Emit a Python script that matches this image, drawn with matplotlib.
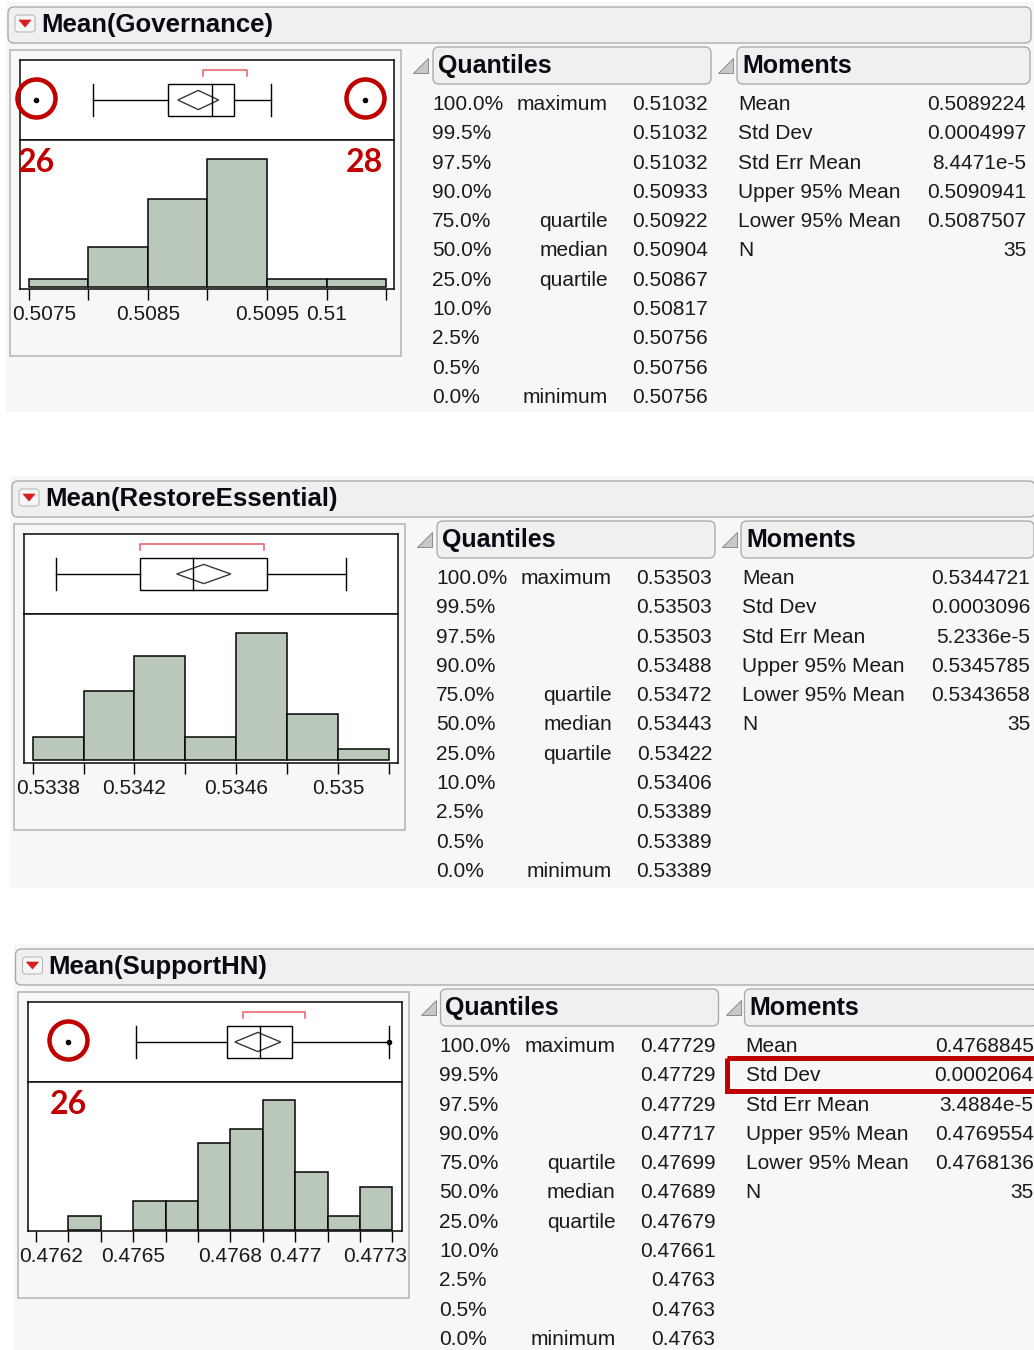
import matplotlib
matplotlib.use("Agg")
import matplotlib.pyplot as plt
import matplotlib.transforms as mtransforms
from matplotlib.patches import FancyBboxPatch, Rectangle, Polygon
import numpy as np

# ---------------- data ----------------
panel_titles = ["Mean(Governance)", "Mean(RestoreEssential)", "Mean(SupportHN)"]

quantile_pcts = ["100.0%", "99.5%", "97.5%", "90.0%", "75.0%", "50.0%",
                 "25.0%", "10.0%", "2.5%", "0.5%", "0.0%"]
quantile_names = ["maximum", "", "", "", "quartile", "median",
                  "quartile", "", "", "", "minimum"]
moment_names = ["Mean", "Std Dev", "Std Err Mean", "Upper 95% Mean",
                "Lower 95% Mean", "N"]

# Governance
gov_edges = [0.5075, 0.5080, 0.5085, 0.5090, 0.5095, 0.5100, 0.5105]
gov_counts = [1, 5, 11, 16, 1, 1]
gov_quantiles = [0.51032, 0.51032, 0.51032, 0.50933, 0.50922, 0.50904,
                 0.50867, 0.50817, 0.50756, 0.50756, 0.50756]
gov_moments = [0.5089224, 0.0004997, 8.4471e-5, 0.5090941, 0.5087507, 35]
gov_whiskers = [0.50804, 0.50953]
gov_outliers = [0.50756, 0.51032]
gov_shorth = [0.50896, 0.50933]
gov_ticks = [0.5075, 0.5080, 0.5085, 0.5090, 0.5095, 0.5100, 0.5105]
gov_tick_labels = {0.5075: "0.5075", 0.5085: "0.5085", 0.5095: "0.5095", 0.5100: "0.51"}
gov_marks = [(0.50756, "26"), (0.51032, "28")]

# RestoreEssential
res_edges = [0.5338, 0.5340, 0.5342, 0.5344, 0.5346, 0.5348, 0.5350, 0.5352]
res_counts = [2, 6, 9, 2, 11, 4, 1]
res_quantiles = [0.53503, 0.53503, 0.53503, 0.53488, 0.53472, 0.53443,
                 0.53422, 0.53406, 0.53389, 0.53389, 0.53389]
res_moments = [0.5344721, 0.0003096, 5.2336e-5, 0.5345785, 0.5343658, 35]
res_whiskers = [0.53389, 0.53503]
res_outliers = []
res_shorth = [0.53422, 0.53471]
res_ticks = [0.5338, 0.5340, 0.5342, 0.5344, 0.5346, 0.5348, 0.5350, 0.5352]
res_tick_labels = {0.5338: "0.5338", 0.5342: "0.5342", 0.5346: "0.5346", 0.5350: "0.535"}
res_marks = []

# SupportHN
sup_edges = [0.4762, 0.4763, 0.4764, 0.4765, 0.4766, 0.4767, 0.4768,
             0.4769, 0.4770, 0.4771, 0.4772, 0.4773]
sup_counts = [0, 1, 0, 2, 2, 6, 7, 9, 4, 1, 3]
sup_quantiles = [0.47729, 0.47729, 0.47729, 0.47717, 0.47699, 0.47689,
                 0.47679, 0.47661, 0.4763, 0.4763, 0.4763]
sup_moments = [0.4768845, 0.0002064, 3.4884e-5, 0.4769554, 0.4768136, 35]
sup_whiskers = [0.47651, 0.47729]
sup_outliers = [0.4763, 0.47729]
sup_shorth = [0.47684, 0.47703]
sup_ticks = [0.4762, 0.4763, 0.4764, 0.4765, 0.4766, 0.4767, 0.4768,
             0.4769, 0.4770, 0.4771, 0.4772, 0.4773]
sup_tick_labels = {0.4762: "0.4762", 0.4765: "0.4765", 0.4768: "0.4768",
                   0.4770: "0.477", 0.4773: "0.4773"}
sup_marks = [(0.4763, "26")]

# ---------------- layout / style ----------------
W, H = 1034, 1350
fig = plt.figure(figsize=(W / 100, H / 100), dpi=100)
fig.patch.set_facecolor("white")
bg = fig.add_axes([0, 0, 1, 1], zorder=0)
bg.set_xlim(0, W)
bg.set_ylim(H, 0)
bg.axis("off")

TXT = "Liberation Sans"
RED = "#C00000"
BAR = "#B9C8B9"
PANEL_BG = "#F7F7F7"
INK = "#1A1A1A"


def pt(px):
    return px * 0.72


def fig_rect(x0, y0, x1, y1):
    return [x0 / W, 1 - y1 / H, (x1 - x0) / W, (y1 - y0) / H]


def fmt_q(v):
    return f"{v:.5f}".rstrip("0")


def fmt_m(v, i):
    if i == 5:
        return str(int(v))
    if i == 2:
        m, e = f"{v:.4e}".split("e")
        return f"{m}e{int(e)}"
    return f"{v:.7f}"


panels = [
    dict(title=panel_titles[0], dx=0, dy=0, edges=gov_edges, counts=gov_counts,
         quant=gov_quantiles, mom=gov_moments, whisk=gov_whiskers, outl=gov_outliers,
         shorth=gov_shorth, ticks=gov_ticks, tlabels=gov_tick_labels, marks=gov_marks,
         xlim=(0.5074244, 0.5105672), ylim=(-0.25, 18.4), bottom=412,
         shift={0.5075: 15}),
    dict(title=panel_titles[1], dx=4, dy=474, edges=res_edges, counts=res_counts,
         quant=res_quantiles, mom=res_moments, whisk=res_whiskers, outl=res_outliers,
         shorth=res_shorth, ticks=res_ticks, tlabels=res_tick_labels, marks=res_marks,
         xlim=(0.533766, 0.535235), ylim=(-0.23, 12.6), bottom=888,
         shift={0.5338: 15}),
    dict(title=panel_titles[2], dx=7.5, dy=942, edges=sup_edges, counts=sup_counts,
         quant=sup_quantiles, mom=sup_moments, whisk=sup_whiskers, outl=sup_outliers,
         shorth=sup_shorth, ticks=sup_ticks, tlabels=sup_tick_labels, marks=sup_marks,
         xlim=(0.476174, 0.4773278), ylim=(-0.07, 10.25), bottom=1352,
         shift={0.4762: 15, 0.4773: -17}),
]

for p in panels:
    dx, dy = p["dx"], p["dy"]

    # panel background
    bg.add_patch(Rectangle((6 + dx, 2 + dy), W, p["bottom"] - dy - 2,
                           fc=PANEL_BG, ec="none", zorder=0))
    # title bar
    bg.add_patch(FancyBboxPatch((8 + dx, 7 + dy), 1023, 36,
                                boxstyle="round,pad=0,rounding_size=6",
                                fc="#F0F0F0", ec="#A8A8A8", lw=pt(1.3), zorder=1))
    bg.add_patch(FancyBboxPatch((15 + dx, 15 + dy), 20, 17,
                                boxstyle="round,pad=0,rounding_size=3",
                                fc="#F6F6F6", ec="#B4B4B4", lw=pt(1), zorder=2))
    bg.add_patch(Polygon([(19 + dx, 20 + dy), (31 + dx, 20 + dy), (25 + dx, 27 + dy)],
                         closed=True, fc="#D81E1E", ec="#D81E1E", lw=0.5, zorder=3))
    bg.text(41 + dx, 25 + dy, p["title"], fontsize=18.5, fontweight="bold",
            family=TXT, color="#0A0A14", va="center", ha="left", zorder=3)

    # plot container
    bg.add_patch(Rectangle((10 + dx, 50 + dy), 391, 306, fc=PANEL_BG,
                           ec="#B6B6B6", lw=pt(1.6), zorder=1))

    # sub-headers
    for (tx0, bx0, bx1, label) in [(413, 433, 711, "Quantiles"), (718, 737, 1030, "Moments")]:
        bg.add_patch(Polygon([(tx0 + 15 + dx, 58 + dy), (tx0 + 15 + dx, 73 + dy),
                              (tx0 + dx, 73 + dy)], closed=True,
                             fc="#C8C8C8", ec="#8C8C8C", lw=pt(1), zorder=2))
        bg.add_patch(FancyBboxPatch((bx0 + dx, 47 + dy), bx1 - bx0, 37,
                                    boxstyle="round,pad=0,rounding_size=6",
                                    fc="#F0F0F0", ec="#A8A8A8", lw=pt(1.3), zorder=1))
        bg.text(bx0 + 5 + dx, 66 + dy, label, fontsize=18, fontweight="bold",
                family=TXT, color="#0A0A14", va="center", ha="left", zorder=3)

    # quantile table
    for i in range(len(quantile_pcts)):
        y = 104.5 + 29.3 * i + dy
        bg.text(432 + dx, y, quantile_pcts[i], fontsize=15, family=TXT,
                color=INK, va="center", ha="left", zorder=3)
        if quantile_names[i]:
            bg.text(608 + dx, y, quantile_names[i], fontsize=15, family=TXT,
                    color=INK, va="center", ha="right", zorder=3)
        bg.text(708 + dx, y, fmt_q(p["quant"][i]), fontsize=15, family=TXT,
                color=INK, va="center", ha="right", zorder=3)
    # moments table
    for i in range(len(moment_names)):
        y = 104.5 + 29.3 * i + dy
        bg.text(738 + dx, y, moment_names[i], fontsize=15, family=TXT,
                color=INK, va="center", ha="left", zorder=3)
        bg.text(1026 + dx, y, fmt_m(p["mom"][i], i), fontsize=15, family=TXT,
                color=INK, va="center", ha="right", zorder=3)

    # ---------- box plot axes ----------
    axb = fig.add_axes(fig_rect(20 + dx, 60 + dy, 394 + dx, 140 + dy), zorder=2)
    axb.set_xlim(*p["xlim"])
    axb.set_ylim(0, 1)
    axb.set_xticks([])
    axb.set_yticks([])
    for s in axb.spines.values():
        s.set_linewidth(pt(1.6))
        s.set_color("#111111")
    q1, med, q3 = p["quant"][6], p["quant"][5], p["quant"][4]
    wl, wh = p["whisk"]
    lw = pt(1.4)
    b0, b1, yc = 0.305, 0.695, 0.5
    axb.plot([wl, q1], [yc, yc], color="black", lw=lw)
    axb.plot([q3, wh], [yc, yc], color="black", lw=lw)
    axb.plot([wl, wl], [b0, b1], color="black", lw=lw)
    axb.plot([wh, wh], [b0, b1], color="black", lw=lw)
    axb.add_patch(Rectangle((q1, b0), q3 - q1, b1 - b0, fc="white", ec="black", lw=lw))
    mean, upper, lower = p["mom"][0], p["mom"][3], p["mom"][4]
    axb.add_patch(Polygon([(lower, yc), (mean, yc + 0.12), (upper, yc), (mean, yc - 0.12)],
                          closed=True, fill=False, ec="#3A3A3A", lw=lw, zorder=3))
    axb.plot([med, med], [b0, b1], color="black", lw=lw, zorder=4)
    s0, s1 = p["shorth"]
    axb.plot([s0, s0, s1, s1], [0.80, 0.87, 0.87, 0.80], color="#F0606E", lw=pt(1.6))
    for o in p["outl"]:
        axb.plot([o], [yc], marker="o", ms=3, color="black", ls="none", zorder=5)
    for (xv, _) in p["marks"]:
        axb.plot([xv], [yc + 0.03], marker="o", ms=pt(38), mfc="none", mec=RED,
                 mew=pt(4.5), ls="none", clip_on=False, zorder=10)

    # ---------- histogram axes ----------
    axh = fig.add_axes(fig_rect(20 + dx, 140 + dy, 394 + dx, 289 + dy), zorder=2)
    edges = np.array(p["edges"])
    counts = np.array(p["counts"])
    ecs = ["black" if c > 0 else "none" for c in counts]
    axh.bar(edges[:-1], counts, width=np.diff(edges), align="edge",
            color=BAR, edgecolor=ecs, linewidth=pt(1.5), zorder=2)
    axh.set_xlim(*p["xlim"])
    axh.set_ylim(*p["ylim"])
    axh.set_yticks([])
    axh.set_xticks(p["ticks"])
    axh.set_xticklabels([])
    axh.tick_params(axis="x", direction="out", length=pt(11), width=pt(1.4), color="black")
    for s in axh.spines.values():
        s.set_linewidth(pt(1.6))
        s.set_color("#111111")
    for tv, tl in p["tlabels"].items():
        off = p["shift"].get(tv, 0)
        tr = mtransforms.blended_transform_factory(axh.transData, axh.transAxes) + \
            mtransforms.ScaledTranslation(off / 100, -25 / 100, fig.dpi_scale_trans)
        axh.text(tv, 0, tl, transform=tr, ha="center", va="center", fontsize=15,
                 family=TXT, color=INK, clip_on=False)
    for (xv, lab) in p["marks"]:
        axh.text(xv, 0.85, lab, transform=axh.get_xaxis_transform(), ha="center",
                 va="center", fontsize=23, fontweight="bold", family="Lato",
                 color=RED, zorder=10)

# red highlight box around Std Dev in the last panel
bg.add_patch(Rectangle((726.5, 1057.5), 330, 33, fill=False, ec=RED, lw=pt(5), zorder=5))

fig.savefig("out.png", dpi=100, facecolor="white")
